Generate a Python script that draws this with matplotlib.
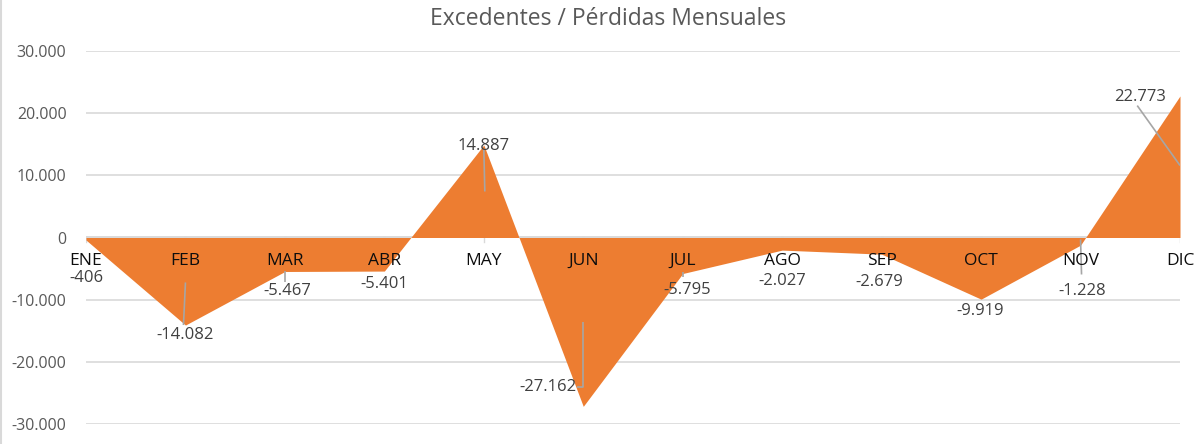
import numpy as np
import matplotlib
matplotlib.use("Agg")
import matplotlib.pyplot as plt

plt.rcParams['font.family'] = ['Open Sans', 'DejaVu Sans']

meses = ['ENE', 'FEB', 'MAR', 'ABR', 'MAY', 'JUN', 'JUL', 'AGO', 'SEP', 'OCT', 'NOV', 'DIC']
valores = [-406, -14082, -5467, -5401, 14887, -27162, -5795, -2027, -2679, -9919, -1228, 22773]
yticks = [-30000, -20000, -10000, 0, 10000, 20000, 30000]

# where each data label sits (x in category units, y in data units)
lab_x = [0, 1, 2.02, 3, 4, 4.93, 6.04, 7, 7.98, 8.99, 10.02, 10.6]
lab_y = [-6590, -15750, -8680, -7400, 14790, -24110, -8520, -7070, -7230, -11900, -8680, 22670]
lab_ha = ['center'] * 5 + ['right'] + ['center'] * 6

# leader lines (Excel style)
leaders = [
    ([1, 0.98], [-7230, -14082]),
    ([2, 2], [-5467, -7230]),
    ([4, 4.01], [14250, 7400]),
    ([5, 5, 4.94], [-13660, -24110, -24110]),
    ([6, 6], [-5470, -6430]),
    ([10, 10.01], [-320, -5950]),
    ([10.57, 11], [21220, 11580]),
]

orange = '#ED7D31'
grid_c = '#D9D9D9'
txt = '#595959'

def fmt(v):
    return f"{v:,}".replace(",", ".")

fig = plt.figure(figsize=(12.04, 4.44), dpi=100)
ax = fig.add_axes([86 / 1204, 20 / 444, (1180 - 86) / 1204, (424 - 51) / 444])

x = np.arange(len(meses))
ax.fill_between(x, 0, valores, color=orange, linewidth=0, zorder=2)

ax.set_xlim(0, 11)
ax.set_ylim(-30000, 30000)
ax.set_yticks(yticks)
ax.set_yticklabels([fmt(v) for v in yticks], color=txt, fontsize=11.5)
ax.tick_params(axis='y', length=0, pad=14)
ax.grid(axis='y', color=grid_c, linewidth=1.2, zorder=1)
for s in ax.spines.values():
    s.set_visible(False)

ax.axhline(0, color=grid_c, linewidth=1.2, zorder=1)
ax.set_xticks([])
for i, m in enumerate(meses):
    ax.plot([i, i], [0, -800], color=grid_c, linewidth=1, zorder=1)
    ax.text(i, -3700, m, ha='center', va='center', fontsize=12.5, color='#0d0d0d', zorder=4)

for xs, ys in leaders:
    ax.plot(xs, ys, color='#A6A6A6', linewidth=1.2, zorder=3, solid_capstyle='butt')

for i, v in enumerate(valores):
    ax.text(lab_x[i], lab_y[i], fmt(v), ha=lab_ha[i], va='center', fontsize=12,
            color='#404040', zorder=4)

fig.text(608 / 1204, 1 - 19 / 444, 'Excedentes / Pérdidas Mensuales', ha='center', va='center',
         fontsize=16.5, color=txt)

fig.add_artist(plt.Line2D([0.001, 0.001], [0, 1], color=grid_c, linewidth=1.5, transform=fig.transFigure))

fig.savefig('out.png', dpi=100)
